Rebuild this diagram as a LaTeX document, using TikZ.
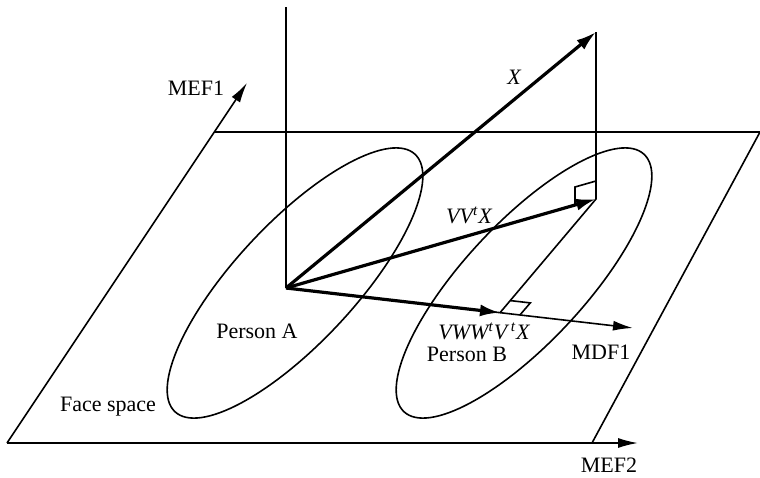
\documentclass[tikz,border=0pt]{standalone}
\usepackage{fontspec}
\setmainfont{Liberation Serif}
\usetikzlibrary{arrows.meta,positioning}

\begin{document}
\begin{tikzpicture}[
  x=0.5pt, y=-0.5pt,
  font=\fontsize{11}{13}\selectfont,
  axis/.style={line width=0.8pt},
  axisarrow/.style={-{Latex[length=10pt,width=5pt]}, line width=0.8pt},
  vecarrow/.style={-{Latex[length=10pt,width=6pt]}, line width=1.6pt},
  person/.style={line width=0.8pt},
  lbl/.style={inner sep=1pt},
  vlbl/.style={inner sep=1pt, font=\fontsize{11}{13}\selectfont\itshape},
]
\useasboundingbox (0,0) rectangle (760,477);

% ===== Face space plane =====
\coordinate (pBL) at (7,443);
\coordinate (pTL) at (215,132);
\coordinate (pTR) at (760,132);
\coordinate (pBR) at (592,443);
\coordinate (mef1) at (247,83);
\coordinate (mef2) at (638,443);

\draw[axisarrow] (pBL) -- (mef1);
\draw[axisarrow] (pBL) -- (mef2);
\draw[axis] (pTL) -- (pTR) -- (pBR);

% ===== Person clusters =====
\coordinate (cA) at (295,283);
\coordinate (cB) at (524,283);
\draw[person, rotate around={47:(cA)}] (cA) ellipse [x radius=176, y radius=60];
\draw[person, rotate around={47:(cB)}] (cB) ellipse [x radius=176, y radius=60];

% ===== Vectors and projections =====
\coordinate (O) at (286,288);
\coordinate (vtop) at (286,7);
\coordinate (X) at (596,32);
\coordinate (P) at (596,199);
\coordinate (Q) at (500,312.7);
\coordinate (mdf1) at (633,328);

\draw[axis] (vtop) -- (O);
\draw[axisarrow] (O) -- (mdf1);
\draw[axis] (X) -- (P) -- (Q);
\draw[vecarrow] (O) -- (X);
\draw[vecarrow] (O) -- (P);
\draw[vecarrow] (O) -- (Q);

% right angles
\draw[axis] (P) ++(0,-18) -- ++(-21,6) -- ++(0,18);
\draw[axis] (Q) ++(10.4,-12.1) -- ++(19.9,2.3) -- ++(-10.4,12.1);

% ===== Labels =====
\node[lbl] (lmef1) at (196,88) {MEF1};
\node[lbl] (lmef2) at (609,465) {MEF2};
\node[lbl] (lmdf1) at (601,352) {MDF1};
\node[lbl] (lpa) at (257,331) {Person A};
\node[lbl] (lpb) at (467,354) {Person B};
\node[lbl] (lface) at (108,407) {Face space};
\node[vlbl] (lx) at (514,77) {X};
\node[vlbl] (lp) at (469,215) {VV\textsuperscript{t}X};
\node[vlbl] (lq) at (484,331) {VWW\textsuperscript{t}V\,\textsuperscript{t}X};

\end{tikzpicture}
\end{document}
